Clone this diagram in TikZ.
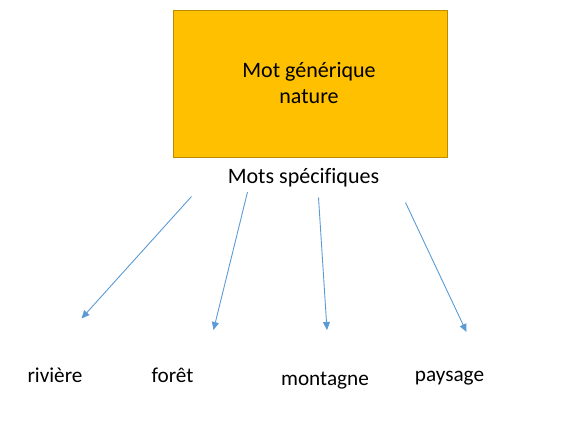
\documentclass[tikz,border=0pt]{standalone}
\usepackage{fontspec}
\setmainfont{Carlito}[Ligatures=NoCommon]
\usetikzlibrary{arrows.meta}
\definecolor{boxfill}{HTML}{FFC000}
\definecolor{boxline}{HTML}{BC8C00}
\definecolor{arrowblue}{HTML}{5B9BD5}
\tikzset{
  genbox/.style={draw=boxline, fill=boxfill, line width=0.8bp},
  lbl/.style={inner sep=0pt, anchor=base, font=\fontsize{21.3}{26}\selectfont},
  biglbl/.style={lbl, font=\fontsize{22.1}{26}\selectfont},
  linkarrow/.style={draw=arrowblue, line width=0.9bp, -{Triangle[length=8bp,width=7bp]}}
}
\begin{document}
\begin{tikzpicture}[x=1bp,y=-1bp]
\useasboundingbox (0,0) rectangle (586,425);
\node[genbox, minimum width=274bp, minimum height=147bp, inner sep=0pt] (gen) at (310,83.5) {};
\node[biglbl] (l1) at (309,77) {Mot générique};
\node[biglbl] (l2) at (309,103) {nature};
\node[biglbl] (spec) at (303.5,183) {Mots spécifiques};
\node[lbl] (riv) at (55,382) {rivière};
\node[lbl] (for) at (172.5,382) {forêt};
\node[lbl] (mon) at (325,385) {montagne};
\node[lbl] (pay) at (449.5,381) {paysage};
\coordinate (s1) at (191.5,196.5);
\coordinate (e1) at (81.5,318.5);
\coordinate (s2) at (247.5,192);
\coordinate (e2) at (213.5,330);
\coordinate (s3) at (318.5,197.5);
\coordinate (e3) at (327,330);
\coordinate (s4) at (405.5,202.5);
\coordinate (e4) at (466.5,332);
\draw[linkarrow] (s1) -- (e1);
\draw[linkarrow] (s2) -- (e2);
\draw[linkarrow] (s3) -- (e3);
\draw[linkarrow] (s4) -- (e4);
\end{tikzpicture}
\end{document}
